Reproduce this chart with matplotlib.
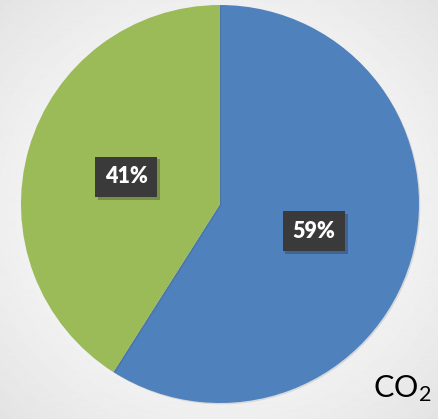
import numpy as np
import matplotlib.pyplot as plt
import matplotlib.patheffects as pe

# pie data
labels = ['Blue', 'Green']
shares = [59, 41]
colors = ['#4F81BD', '#9BBB59']
title_text = r'CO$_2$'

W, H = 438, 419
plt.rcParams['font.family'] = ['Lato', 'DejaVu Sans']
plt.rcParams['mathtext.default'] = 'regular'

fig = plt.figure(figsize=(W / 100, H / 100), dpi=100)
ax = fig.add_axes([0, 0, 1, 1])

# light radial background
yy, xx = np.mgrid[0:H, 0:W]
r = np.hypot((xx - W / 2) / (W / 2), (yy - H / 2) / (H / 2)) / np.sqrt(2)
bg = 1.0 - 0.11 * r ** 1.5
ax.imshow(bg, cmap='gray', vmin=0, vmax=1, extent=(0, W, 0, H), zorder=0)

wedges, texts, autotexts = ax.pie(
    shares, colors=colors, startangle=90, counterclock=False,
    center=(220, H - 204), radius=199,
    autopct=lambda p: f'{round(p)}%', pctdistance=0.49,
    wedgeprops=dict(linewidth=0),
    textprops=dict(color='white', fontsize=15.5, fontweight='heavy'))

for w in wedges:
    w.set_path_effects([pe.SimplePatchShadow(offset=(1, -1), alpha=0.12), pe.Normal()])

for t in autotexts:
    t.set_bbox(dict(boxstyle='square,pad=0.45', facecolor='#3a3a3a', edgecolor='none'))
    t.get_bbox_patch().set_path_effects([pe.SimplePatchShadow(offset=(2, -2), alpha=0.25), pe.Normal()])

ax.text(373, H - 397, title_text, fontsize=22, color='black', ha='left', va='baseline')

ax.set_xlim(0, W)
ax.set_ylim(0, H)
ax.set_aspect('auto')
ax.axis('off')

fig.savefig('out.png', dpi=100)
